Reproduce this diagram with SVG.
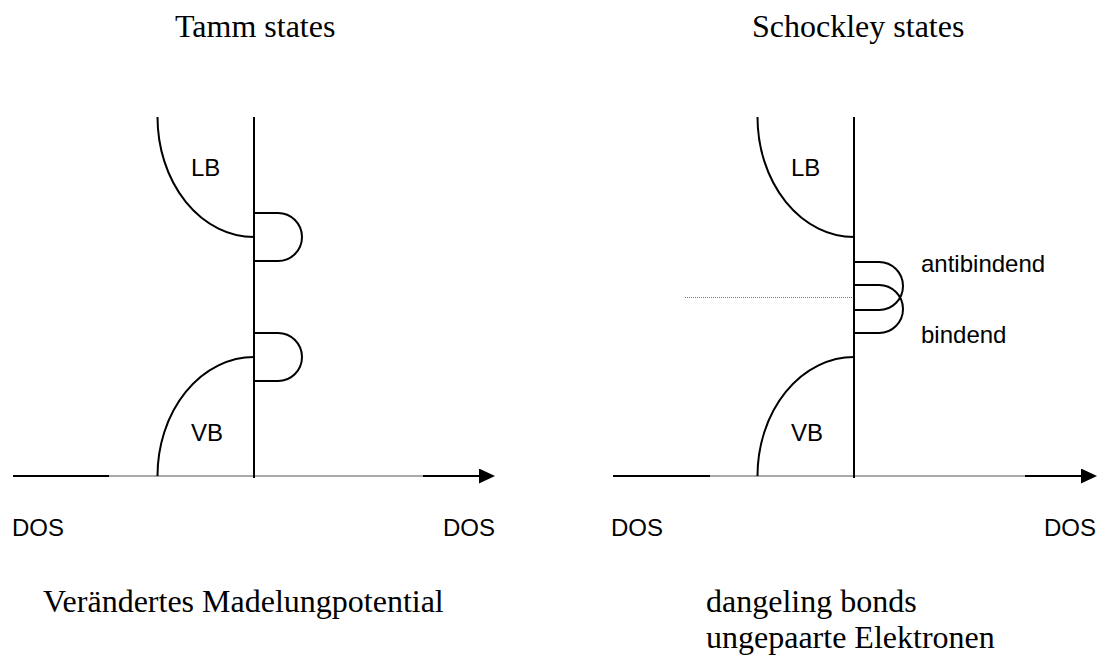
<svg xmlns="http://www.w3.org/2000/svg" width="1104" height="657" viewBox="0 0 1104 657">
  <style>
    .serif { font-family: "Liberation Serif", "Times New Roman", serif; font-size: 32px; fill: #000; }
    .sans { font-family: "Liberation Sans", Arial, sans-serif; font-size: 24px; fill: #000; }
    .curve { fill: none; stroke: #000; stroke-width: 2; }
    .axis-thin { fill: none; stroke: #555; stroke-width: 1.2; }
    .axis-thick { fill: none; stroke: #000; stroke-width: 2.2; }
    .dotted { fill: none; stroke: #777; stroke-width: 1; stroke-dasharray: 1 1; }
  </style>
  <defs>
    <marker id="arrow" viewBox="0 0 16 15" refX="0" refY="7.5" markerWidth="16" markerHeight="15" markerUnits="userSpaceOnUse" orient="auto">
      <path d="M0,0 L16,7.5 L0,15 Z" fill="#000"/>
    </marker>
  </defs>
  <rect width="1104" height="657" fill="#fff"/>

  <!-- Tamm states panel -->
  <g id="tamm">
    <text class="serif" x="175" y="37">Tamm states</text>
    <g id="tamm-axis">
      <line class="axis-thin" x1="109" y1="476" x2="424" y2="476"/>
      <line class="axis-thick" x1="13" y1="476" x2="109" y2="476"/>
      <line class="axis-thick" x1="423" y1="476" x2="479" y2="476" marker-end="url(#arrow)"/>
      <line class="curve" x1="254" y1="117" x2="254" y2="478"/>
    </g>
    <g id="tamm-lb">
      <path class="curve" d="M157.5,117 A96.5,120 0 0 0 254,237"/>
      <text class="sans" x="191" y="176">LB</text>
    </g>
    <g id="tamm-vb">
      <path class="curve" d="M254,357 A96.5,119 0 0 0 157.5,476"/>
      <text class="sans" x="191" y="441">VB</text>
    </g>
    <g id="tamm-state-upper">
      <path class="curve" d="M254,213 H278 A24,24 0 0 1 278,261 H254"/>
    </g>
    <g id="tamm-state-lower">
      <path class="curve" d="M254,333 H278 A24,24 0 0 1 278,381 H254"/>
    </g>
    <text class="sans" x="12" y="536">DOS</text>
    <text class="sans" x="443" y="536">DOS</text>
    <text class="serif" x="43" y="612">Verändertes Madelungpotential</text>
  </g>

  <!-- Shockley states panel -->
  <g id="shockley">
    <text class="serif" x="752" y="37">Schockley states</text>
    <g id="shockley-axis">
      <line class="axis-thin" x1="709" y1="476" x2="1026" y2="476"/>
      <line class="axis-thick" x1="613" y1="476" x2="710" y2="476"/>
      <line class="axis-thick" x1="1025" y1="476" x2="1081" y2="476" marker-end="url(#arrow)"/>
      <line class="curve" x1="854" y1="117" x2="854" y2="478"/>
    </g>
    <g id="shockley-lb">
      <path class="curve" d="M757.5,117 A96.5,120 0 0 0 854,237"/>
      <text class="sans" x="791" y="176">LB</text>
    </g>
    <g id="shockley-vb">
      <path class="curve" d="M854,357 A96.5,119 0 0 0 757.5,476"/>
      <text class="sans" x="791" y="441">VB</text>
    </g>
    <line id="fermi-level" class="dotted" x1="685" y1="297.5" x2="853" y2="297.5"/>
    <g id="antibonding">
      <path class="curve" d="M854,262 H879 A24,24 0 0 1 879,310 H854"/>
      <text class="sans" x="921" y="272">antibindend</text>
    </g>
    <g id="bonding">
      <path class="curve" d="M854,285 H879 A24,24 0 0 1 879,333 H854"/>
      <text class="sans" x="921" y="343">bindend</text>
    </g>
    <text class="sans" x="611" y="536">DOS</text>
    <text class="sans" x="1044" y="536">DOS</text>
    <text class="serif" x="706" y="612">dangeling bonds</text>
    <text class="serif" x="706" y="648">ungepaarte Elektronen</text>
  </g>
</svg>
